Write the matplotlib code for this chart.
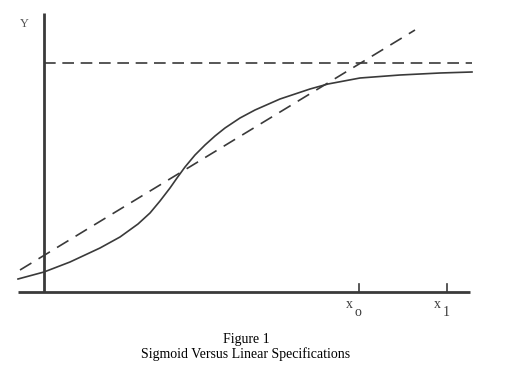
import matplotlib
matplotlib.use('Agg')
import matplotlib.pyplot as plt

# Coordinates are in "chart units": origin at the axes corner, x to the right, y up.
# Sigmoid curve
curve_x = [-26, 0, 26, 56, 76, 94, 106, 116, 126, 133, 141, 151, 161, 171,
           181, 196, 211, 236, 266, 284, 316, 356, 396, 428]
curve_y = [13, 20, 30, 44, 55, 68, 79, 91, 104, 114, 125, 137, 147, 156,
           164, 174, 182, 193, 203, 208, 214, 217, 219, 220]

# Linear specification (dashed straight line)
line_x = [-24, 371]
line_y = [22, 262]

# Upper asymptote (dashed horizontal)
asym_x = [0, 428]
asym_y = [229, 229]

# Ticks on the x axis
tick_pos = [315, 403]
tick_labels = [('x', 'o'), ('x', '1')]

INK = '#3a3a3a'
SERIF = ['Liberation Serif', 'DejaVu Serif']


def main():
    fig = plt.figure(figsize=(5.19, 3.76), dpi=100)
    ax = fig.add_axes([0, 0, 1, 1])
    ax.set_xlim(-44, 475)
    ax.set_ylim(-84, 292)
    ax.axis('off')

    # axes drawn by hand, like the original sketch
    ax.plot([0, 0], [0, 279], color=INK, lw=2.0, solid_capstyle='butt')
    ax.plot([-26, 426], [0, 0], color=INK, lw=2.0, solid_capstyle='butt')
    for t in tick_pos:
        ax.plot([t, t], [0, 8], color=INK, lw=1.2)

    ax.plot(asym_x, asym_y, color=INK, lw=1.2, dashes=(7, 4))
    ax.plot(line_x, line_y, color=INK, lw=1.2, dashes=(8, 5))
    ax.plot(curve_x, curve_y, color=INK, lw=1.2, solid_joinstyle='round')

    # labels
    ax.text(-20, 268, 'Y', fontsize=9, family=SERIF, color='#555555',
            ha='center', va='center')
    for t, (main_txt, sub) in zip(tick_pos, tick_labels):
        ax.text(t - 10, -13, main_txt, fontsize=10, family=SERIF, color=INK,
                ha='center', va='center')
        ax.text(t - 1, -21, sub, fontsize=10, family=SERIF, color=INK,
                ha='center', va='center')

    ax.text(202, -48, 'Figure 1', fontsize=10, family=SERIF, color='black',
            ha='center', va='center')
    ax.text(202, -62, 'Sigmoid Versus Linear Specifications', fontsize=10,
            family=SERIF, color='black', ha='center', va='center')

    fig.savefig('out.png', dpi=100)


if __name__ == '__main__':
    main()
